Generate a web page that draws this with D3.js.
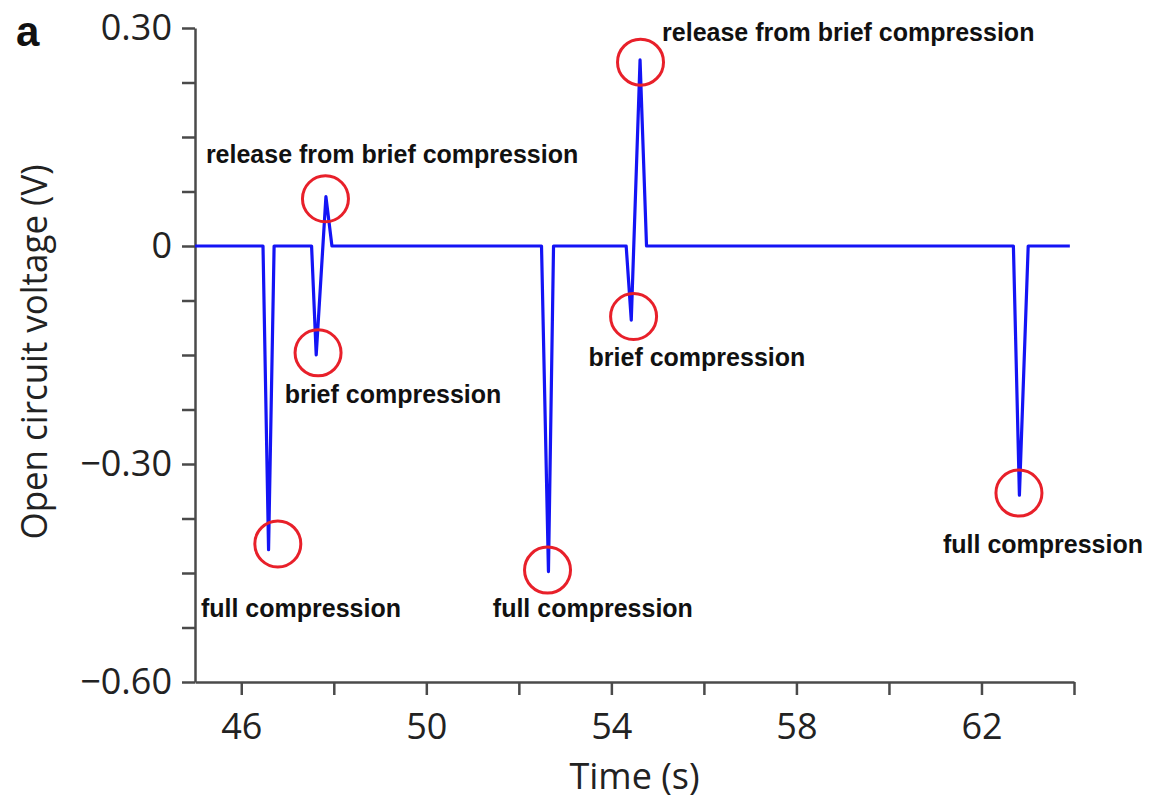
<!DOCTYPE html>
<html>
<head>
<meta charset="utf-8">
<script src="https://cdn.jsdelivr.net/npm/d3@7"></script>
<style>
  html, body { margin: 0; padding: 0; background: #fff; }
  svg { display: block; }
</style>
</head>
<body>
<svg id="chart" width="1149" height="801"></svg>
<script>
// ---- data ----
const timeS    = [45, 46.47, 46.59, 46.71, 47.52, 47.62, 47.83, 47.96, 52.49, 52.64, 52.75, 54.32, 54.43, 54.62, 54.76, 62.69, 62.82, 63.01, 63.91];
const voltageV = [0, 0, -0.418, 0, 0, -0.150, 0.068, 0, 0, -0.448, 0, 0, -0.102, 0.256, 0, 0, -0.343, 0, 0];

const circleT = [46.79, 47.66, 47.82, 52.62, 54.48, 54.63, 62.81];
const circleV = [-0.410, -0.147, 0.065, -0.446, -0.097, 0.253, -0.340];

const annotationText = ["release from brief compression", "brief compression", "full compression", "full compression", "brief compression", "release from brief compression", "full compression"];
const annotationT = [49.26, 49.28, 47.29, 53.60, 55.85, 59.12, 63.33];
const annotationV = [0.114, -0.216, -0.511, -0.511, -0.165, 0.282, -0.422];

const xTicks = [46, 48, 50, 52, 54, 56, 58, 60, 62, 64];
const xTickLabels = ["46", "", "50", "", "54", "", "58", "", "62", ""];
const yTicks = [0.3, 0.225, 0.15, 0.075, 0, -0.075, -0.15, -0.225, -0.3, -0.375, -0.45, -0.525, -0.6];
const yTickLabels = ["0.30", "", "", "", "0", "", "", "", "\u22120.30", "", "", "", "\u22120.60"];

const xTitle = "Time (s)";
const yTitle = "Open circuit voltage (V)";
const panelLabel = "a";

// ---- layout ----
const svg = d3.select("#chart");
const x = d3.scaleLinear().domain([45, 64]).range([195, 1074]);
const y = d3.scaleLinear().domain([-0.6, 0.3]).range([682, 28]);
const axisColor = "#4a4a4a";
const tickFont = "Open Sans, Lato, sans-serif";

const xAxis = d3.axisBottom(x).tickValues(xTicks)
  .tickFormat((d, i) => xTickLabels[i]).tickSize(13).tickSizeOuter(0).tickPadding(18);
const gx = svg.append("g").attr("transform", `translate(0,${y(-0.6)})`).call(xAxis);

const yAxis = d3.axisLeft(y).tickValues(yTicks)
  .tickFormat((d, i) => yTickLabels[i]).tickSize(13).tickSizeOuter(0).tickPadding(10);
const gy = svg.append("g").attr("transform", `translate(${x(45)},0)`).call(yAxis);

[gx, gy].forEach(g => {
  g.select(".domain").attr("stroke", axisColor).attr("stroke-width", 2.5);
  g.selectAll(".tick line").attr("stroke", axisColor).attr("stroke-width", 2.5);
  g.selectAll(".tick text").attr("fill", "#222").style("font-family", tickFont).style("font-size", "36px");
});

// line
const line = d3.line().x((d, i) => x(timeS[i])).y((d, i) => y(voltageV[i]));
svg.append("path").datum(voltageV)
  .attr("d", line)
  .attr("fill", "none")
  .attr("stroke", "#1414f5")
  .attr("stroke-width", 3.2)
  .attr("stroke-linejoin", "round");

// circles
svg.selectAll("circle.mark").data(circleT).join("circle")
  .attr("class", "mark")
  .attr("cx", d => x(d))
  .attr("cy", (d, i) => y(circleV[i]))
  .attr("r", 23)
  .attr("fill", "none")
  .attr("stroke", "#e8202a")
  .attr("stroke-width", 3);

// annotations
svg.selectAll("text.ann").data(annotationText).join("text")
  .attr("class", "ann")
  .attr("x", (d, i) => x(annotationT[i]))
  .attr("y", (d, i) => y(annotationV[i]))
  .attr("text-anchor", "middle")
  .style("font-family", "Liberation Sans, Arial, sans-serif")
  .style("font-weight", "bold")
  .style("font-size", "25px")
  .attr("fill", "#111")
  .text(d => d);

// titles
svg.append("text")
  .attr("x", (x(45) + x(64)) / 2)
  .attr("y", 789)
  .attr("text-anchor", "middle")
  .style("font-family", tickFont)
  .style("font-size", "36px")
  .attr("fill", "#222")
  .text(xTitle);

svg.append("text")
  .attr("transform", `translate(47,352) rotate(-90)`)
  .attr("text-anchor", "middle")
  .attr("textLength", 375)
  .attr("lengthAdjust", "spacingAndGlyphs")
  .style("font-family", tickFont)
  .style("font-size", "36px")
  .attr("fill", "#222")
  .text(yTitle);

svg.append("text")
  .attr("x", 16)
  .attr("y", 46)
  .style("font-family", "Liberation Sans, Arial, sans-serif")
  .style("font-weight", "bold")
  .style("font-size", "42px")
  .attr("fill", "#111")
  .text(panelLabel);
</script>
</body>
</html>
